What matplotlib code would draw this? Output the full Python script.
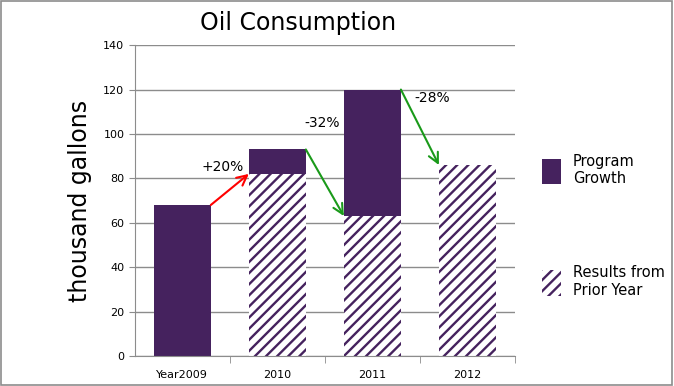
import matplotlib.pyplot as plt
from matplotlib.patches import Rectangle
import numpy as np

years = ['Year2009', '2010', '2011', '2012']
prior = [0, 82, 63, 86]        # results carried from prior year (hatched)
growth = [68, 11, 57, 0]       # program growth (solid)
changes = ['+20%', '-32%', '-28%']

purple = '#45225e'
plt.rcParams['hatch.linewidth'] = 1.7
plt.rcParams['hatch.color'] = purple

fig = plt.figure(figsize=(6.74, 3.86), dpi=100)
ax = fig.add_axes([0.2, 0.078, 0.564, 0.805])

x = np.arange(len(years))
w = 0.6
ax.bar(x, prior, w, color='white', edgecolor=purple, hatch='///', linewidth=0, zorder=2)
ax.bar(x, growth, w, bottom=prior, color=purple, linewidth=0, zorder=2)

ax.set_ylim(0, 140)
ax.set_xlim(-0.5, 3.5)
ax.set_yticks(range(0, 141, 20))
ax.yaxis.grid(True, color='#8c8c8c', linewidth=1)
ax.set_axisbelow(True)
ax.set_xticks(x)
ax.set_xticklabels(years, fontsize=8)
ax.set_xticks([0.5, 1.5, 2.5, 3.5], minor=True)
ax.tick_params(axis='x', which='major', length=0, pad=10)
ax.tick_params(axis='x', which='minor', length=5, color='#8c8c8c')
ax.tick_params(axis='y', length=4, color='#8c8c8c', labelsize=8)
for s in ['top', 'right']:
    ax.spines[s].set_visible(False)
ax.spines['left'].set_color('#8c8c8c')
ax.spines['bottom'].set_color('#8c8c8c')

ax.set_ylabel('thousand gallons', fontsize=17, labelpad=8)
ax.set_title('Oil Consumption', fontsize=17, x=0.43, pad=11)

# arrows between years
tops = [p + g for p, g in zip(prior, growth)]
cols = ['red', '#1a9a1a', '#1a9a1a']
for i in range(3):
    ax.annotate('', xy=(i + 1 - w / 2, prior[i + 1]), xytext=(i + w / 2, tops[i]),
                arrowprops=dict(arrowstyle='->', color=cols[i], lw=1.5, mutation_scale=18,
                                shrinkA=0, shrinkB=0), zorder=5)
ax.text(0.42, 85, changes[0], fontsize=10, ha='center', va='center', zorder=6)
ax.text(1.47, 105, changes[1], fontsize=10, ha='center', va='center', zorder=6)
ax.text(2.63, 116, changes[2], fontsize=10, ha='center', va='center', zorder=6)

# legend
h1 = Rectangle((0, 0), 1, 1, facecolor=purple, linewidth=0)
h2 = Rectangle((0, 0), 1, 1, facecolor='white', edgecolor=purple, hatch='///', linewidth=0)
fig.legend([h1, h2], ['Program\nGrowth', 'Results from\nPrior Year'],
           loc='upper left', bbox_to_anchor=(0.785, 0.635), frameon=False,
           fontsize=10.5, handlelength=1.3, handleheight=2.3, labelspacing=5.4,
           handletextpad=0.8)

# figure border
fig.patches.append(Rectangle((0.002, 0.003), 0.995, 0.994, transform=fig.transFigure,
                             fill=False, edgecolor='#8c8c8c', linewidth=1.2))

fig.savefig('out.png', dpi=100)
